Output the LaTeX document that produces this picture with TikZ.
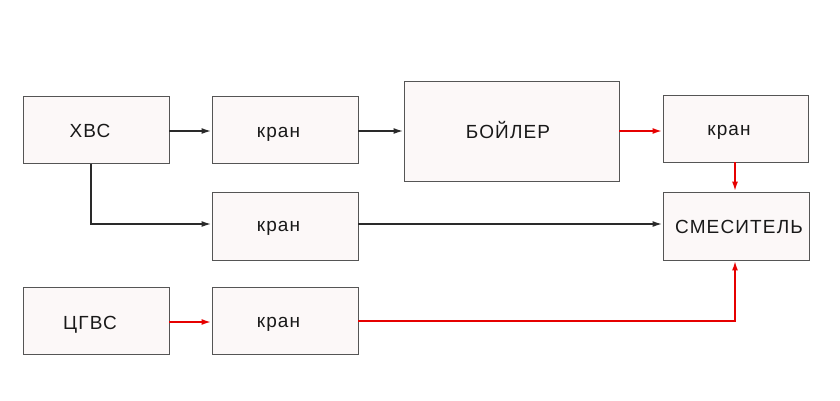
\documentclass[tikz,border=0pt]{standalone}
\usepackage{fontspec}
\setmainfont{Liberation Sans}[LetterSpace=6]
\usetikzlibrary{arrows.meta}
\definecolor{boxfill}{HTML}{FCF8F8}
\definecolor{boxline}{HTML}{555555}
\definecolor{darkline}{HTML}{2A2A2A}
\definecolor{redline}{HTML}{E60000}
\begin{document}
\begin{tikzpicture}[x=1pt,y=-1pt,
  blk/.style={draw=boxline,fill=boxfill,line width=0.9pt},
  txt/.style={inner sep=0pt,anchor=base,font=\fontsize{19}{20}\selectfont,text=black!90},
  blackarrow/.style={draw=darkline,line width=1.8pt,-{Latex[length=10pt,width=6pt]}},
  redarrow/.style={draw=redline,line width=2.2pt,-{Latex[length=10pt,width=6pt]}}]
\useasboundingbox (0,0) rectangle (840,400);
\node[blk,minimum width=146pt,minimum height=67pt] (xvs) at (96,130) {};
\node[blk,minimum width=146pt,minimum height=67pt] (k1) at (285,130) {};
\node[blk,minimum width=215pt,minimum height=100pt] (boil) at (511.5,131) {};
\node[blk,minimum width=145pt,minimum height=67pt] (k4) at (735.5,128.5) {};
\node[blk,minimum width=146pt,minimum height=68pt] (k2) at (285,226) {};
\node[blk,minimum width=146pt,minimum height=68pt] (mix) at (736,226) {};
\node[blk,minimum width=146pt,minimum height=67pt] (cgvs) at (96,320.5) {};
\node[blk,minimum width=146pt,minimum height=67pt] (k3) at (285,320.5) {};
\node[txt] (t1) at (90,137.5) {ХВС};
\node[txt] (t2) at (278.5,137) {кран};
\node[txt] (t3) at (508,138) {БОЙЛЕР};
\node[txt] (t4) at (729,135) {кран};
\node[txt] (t5) at (278.5,231.5) {кран};
\node[txt] (t6) at (739,233) {СМЕСИТЕЛЬ};
\node[txt] (t7) at (90,329) {ЦГВС};
\node[txt] (t8) at (278.5,327) {кран};
\coordinate (c1) at (91,224);
\coordinate (c2) at (735,321);
\draw[blackarrow] (xvs.east |- 0,131) -- (k1.west |- 0,131);
\draw[blackarrow] (k1.east |- 0,131) -- (boil.west |- 0,131);
\draw[redarrow] (boil.east |- 0,131) -- (k4.west |- 0,131);
\draw[redarrow] (k4.south -| 735,0) -- (mix.north -| 735,0);
\draw[blackarrow] (xvs.south -| c1) -- (c1) -- (k2.west |- c1);
\draw[blackarrow] (k2.east |- 0,224) -- (mix.west |- 0,224);
\draw[redarrow] (cgvs.east |- 0,322) -- (k3.west |- 0,322);
\draw[redarrow] (k3.east |- c2) -- (c2) -- (mix.south -| c2);
\end{tikzpicture}
\end{document}
